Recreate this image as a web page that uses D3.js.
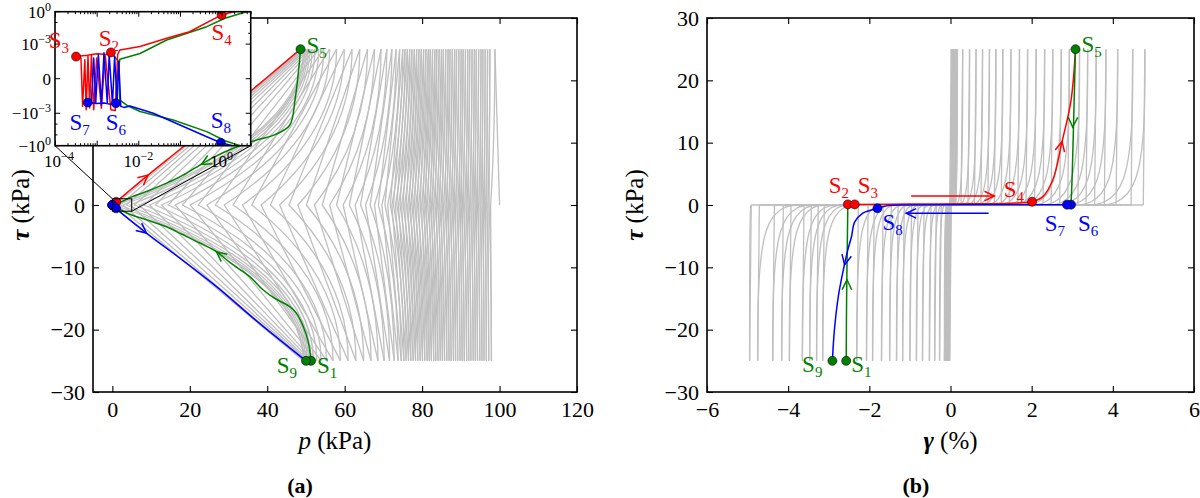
<!DOCTYPE html>
<html>
<head>
<meta charset="utf-8">
<title>Stress path and stress-strain response</title>
<script src="https://cdn.jsdelivr.net/npm/d3@7/dist/d3.min.js"></script>
<style>
  body { margin: 0; background: #fff; }
  svg { display: block; }
  svg text { font-family: "Liberation Serif", "DejaVu Serif", serif !important; }
</style>
</head>
<body>
<svg id="fig" width="1200" height="498" font-family="Liberation Serif, DejaVu Serif, serif"></svg>
<script>
// ---------------- panel (a): p (kPa) vs tau (kPa) ----------------
var tauAmp = 25;
var grayStart = [100, 0];
// p at successive load reversals, tau alternates +25 / -25 starting with +25
var grayPeakP = [98.8, 97.9, 97.5, 97.2, 96.9, 96.6, 96.3, 96.0, 95.7, 95.45,
  95.2, 94.9, 94.6, 94.3, 94.0, 93.75, 93.5, 93.2, 92.9, 92.6,
  92.3, 92.05, 91.8, 91.5, 91.2, 90.9, 90.6, 90.35, 90.1, 89.8,
  89.5, 89.2, 88.9, 88.65, 88.4, 88.1, 87.8, 87.5, 87.2, 86.95,
  86.7, 86.4, 86.1, 85.8, 85.5, 85.25, 85.0, 84.7, 84.4, 84.1,
  83.8, 83.55, 83.3, 83.0, 82.7, 82.4, 82.1, 81.85, 81.6, 81.3,
  81.0, 80.7, 80.4, 80.1, 79.8, 79.5, 79.2, 78.9, 78.6, 78.3,
  78.0, 77.7, 77.4, 77.1, 76.8, 76.5, 76.2, 75.9, 75.6, 75.3,
  75.0, 74.6, 74.2, 73.8, 73.3, 72.8, 72.2, 71.6, 70.9, 70.2,
  69.4, 68.6, 67.7, 66.8, 65.9, 64.9, 63.9, 62.9, 61.9, 60.9,
  59.9, 58.9, 57.9, 57.0, 56.1, 55.3, 54.6, 53.9, 53.3, 52.8,
  52.3, 51.9, 51.6, 51.3, 51.0, 50.7, 50.5, 50.3, 50.1, 49.9,
  49.7, 49.5, 49.4, 49.3, 49.2];
// p where each half cycle crosses tau = 0
var grayMidP = [97.7, 97.3, 97.0, 96.7, 96.4, 96.1, 95.8, 95.5, 95.2, 94.95,
  94.6, 94.3, 94.0, 93.7, 93.4, 93.15, 92.85, 92.55, 92.25, 91.9,
  91.6, 91.35, 91.0, 90.7, 90.4, 90.1, 89.85, 89.6, 89.25, 88.95,
  88.6, 88.3, 88.0, 87.7, 87.4, 87.1, 86.8, 86.45, 86.2, 85.9,
  85.55, 85.2, 84.9, 84.55, 84.3, 84.0, 83.65, 83.35, 83.0, 82.7,
  82.4, 82.1, 81.8, 81.45, 81.1, 80.8, 80.5, 80.2, 79.85, 79.5,
  79.1, 78.75, 78.4, 78.05, 77.7, 77.35, 77.0, 76.65, 76.3, 75.9,
  75.5, 75.1, 74.7, 74.3, 73.9, 73.5, 73.1, 72.6, 72.2, 71.8,
  71.1, 70.4, 69.6, 68.7, 67.7, 66.6, 65.4, 64.1, 62.7, 61.2,
  59.6, 57.9, 56.1, 54.2, 52.2, 50.1, 47.9, 45.6, 43.2, 40.8,
  38.4, 36.0, 33.6, 31.2, 28.9, 26.6, 24.4, 22.2, 20.1, 18.1,
  16.2, 14.4, 12.7, 11.1, 9.6, 8.2, 6.9, 5.7, 4.6, 3.6,
  2.7, 1.9, 1.2, 0.6];

// highlighted cycle, [p, tau]
var pathA_S1S2 = [[51.3, -25], [50.6, -22], [49.3, -19.5], [47.5, -17.3], [45.8, -16.3], [42, -15],
  [38.9, -13.6], [35.5, -11.5], [30.5, -9.3], [26.9, -7.5], [22.6, -6.1], [18, -4.7], [14, -3.5],
  [9, -2.4], [5, -1.6], [2.8, -1.0], [1.2, -0.35], [0.44, -0.05], [0.069, -0.0042], [0.011, -0.00095],
  [0.0057, -0.00079], [0.0036, -0.00062], [0.0034, 0.0005], [0.0022, 0.00076]];
var pathA_S2S5 = [[0.0022, 0.00076], [0.0018, 0.0007], [0.001, 0.00072], [0.0006, 0.00068], [0.00032, 0.00064],
  [0.00042, 0.0006], [0.00046, -0.0008], [0.00052, 0.00055], [0.00056, -0.0009], [0.00062, 0.00065],
  [0.00068, -0.00085], [0.00075, 0.0007], [0.00085, -0.0009], [0.001, 0.0006], [0.0013, -0.00085],
  [0.0016, 0.0007], [0.0022, -0.0009], [0.0028, -0.00092], [0.0032, 0.0007], [0.0036, 0.00083],
  [0.011, 0.00093], [0.048, 0.0035], [0.17, 0.014], [1.0, 0.5], [5, 2.6], [9.2, 4.8], [18.3, 9.35],
  [30, 15.3], [40, 20.5], [48.6, 25]];
var pathA_S5S6 = [[48.6, 25], [48.0, 21], [47.2, 17], [45.8, 12.8], [42, 11.3], [36, 10.2], [31.2, 9.1],
  [26, 7.6], [22.6, 6.4], [18, 4.7], [14, 3.5], [9, 2.2], [5, 1.3], [3.3, 0.81], [1.2, 0.25], [0.44, 0.041],
  [0.048, 0.0024], [0.011, 0.00073], [0.0036, 0.00056], [0.0031, 0], [0.0029, -0.00071]];
var pathA_S6S9 = [[0.0029, -0.00071], [0.0024, -0.00075], [0.0015, -0.0007], [0.001, -0.00072],
  [0.00061, -0.00069], [0.00075, -0.00065], [0.00085, 0.0006], [0.00095, -0.0007], [0.0011, 0.0007],
  [0.0013, -0.00075], [0.0015, 0.00075], [0.0018, -0.0007], [0.002, 0.0007], [0.0024, -0.00075],
  [0.0027, 0.00065], [0.0031, -0.0007], [0.0034, 0.0005], [0.0038, -0.0008], [0.0045, -0.00083],
  [0.0063, -0.00079], [0.023, -0.001], [0.1, -0.012], [0.44, -0.148], [0.96, -0.54],
  [8.8, -4.5], [18, -8.8], [26.9, -13.1], [38, -19], [50, -25]];
var pointsA = [["1", 51.3, -25], ["2", 0.0022, 0.00076], ["3", 0.00032, 0.00064], ["4", 1.0, 0.5],
  ["5", 48.6, 25], ["6", 0.0029, -0.00071], ["7", 0.00061, -0.00069], ["8", 0.96, -0.54], ["9", 50, -25]];
// direction arrows: [series, tip, point behind tip]
var arrowsA = [["S2S5", [9.2, 4.8], [5, 2.6]], ["S6S9", [8.8, -4.5], [4, -2.1]],
  ["S5S6", [23, 6.5], [27, 7.9]], ["S1S2", [26.9, -7.5], [30.5, -9.3]]];

// ---------------- panel (b): gamma (%) vs tau (kPa) ----------------
var cyclePosPeak = [0.02, 0.04, 0.05, 0.07, 0.08, 0.10, 0.11, 0.12, 0.14, 0.15, 0.16, 0.17,
  0.30, 0.47, 0.63, 0.79, 0.96, 1.12, 1.29, 1.49, 1.70, 1.90, 2.11, 2.32, 2.52, 2.73, 2.93,
  3.18, 3.38, 3.59, 3.83, 4.12, 4.49, 4.79];
var cyclePosKnee = [0.00, 0.01, 0.01, 0.02, 0.02, 0.03, 0.03, 0.04, 0.04, 0.05, 0.05, 0.06,
  0.08, 0.14, 0.22, 0.30, 0.40, 0.50, 0.60, 0.72, 0.86, 1.00, 1.15, 1.30, 1.45, 1.60, 1.75,
  1.95, 2.15, 2.35, 2.55, 2.80, 3.10, 3.40];
var cycleNegPeak = [-0.02, -0.03, -0.05, -0.06, -0.08, -0.09, -0.10, -0.11, -0.12, -0.13, -0.14, -0.15,
  -0.27, -0.39, -0.52, -0.69, -0.84, -1.00, -1.18, -1.33, -1.50, -1.70, -1.92, -2.07, -2.31, -3.15, -3.30,
  -3.47, -3.65, -3.97, -4.16, -4.38, -4.75, -4.95, -5.57];
var cycleNegKnee = [0.00, -0.01, -0.01, -0.02, -0.02, -0.03, -0.03, -0.03, -0.04, -0.04, -0.05, -0.06,
  -0.10, -0.16, -0.24, -0.34, -0.44, -0.55, -0.66, -0.78, -0.90, -1.04, -1.20, -1.32, -1.50, -2.15, -2.30,
  -2.45, -2.60, -2.85, -3.00, -3.20, -3.50, -4.90, -4.30];
var unloadStrain = 0.04;

var pathB_S1S2 = [[-2.57, -25], [-2.56, -15], [-2.54, -5], [-2.53, 0.1]];
var pathB_S2S5 = [[-2.53, 0.1], [-2.36, 0.1], [-1, 0.15], [0.5, 0.2], [1.5, 0.3], [2.01, 0.53], [2.27, 1.3],
  [2.52, 4.0], [2.75, 10.2], [2.97, 16.8], [3.08, 25]];
var pathB_S5S6 = [[3.08, 25], [3.04, 15], [3.0, 5], [2.97, 0.05]];
var pathB_S6S9 = [[2.97, 0.05], [2.87, 0.05], [1, 0.03], [-1, 0.0], [-1.55, -0.1], [-1.8, -0.53], [-2.05, -1.0],
  [-2.16, -1.3], [-2.36, -2.7], [-2.44, -5.1], [-2.53, -7.2], [-2.66, -11], [-2.76, -14.5], [-2.86, -20], [-2.91, -25]];
var pointsB = [["1", -2.57, -25], ["2", -2.53, 0.1], ["3", -2.36, 0.1], ["4", 2.01, 0.53], ["5", 3.08, 25],
  ["6", 2.97, 0.05], ["7", 2.87, 0.05], ["8", -1.8, -0.53], ["9", -2.91, -25]];
var arrowsB = [["S2S5", [2.75, 10.2], [2.6, 6.0]], ["S5S6", [3.01, 12.5], [3.03, 17]],
  ["S1S2", [-2.55, -12], [-2.56, -17]], ["S6S9", [-2.61, -9.6], [-2.53, -7.2]]];
var arrowLinesB = [["S2S5", [-0.97, 1.44], [1.08, 1.44]], ["S6S9", [0.94, -1.34], [-1.09, -1.34]]];

// ---------------- ticks ----------------
var ticksPA = [0, 20, 40, 60, 80, 100, 120];
var ticksTau = [-30, -20, -10, 0, 10, 20, 30];
var hiddenTauLabelsA = [10, 20];   // covered by the inset
var ticksGamma = [-6, -4, -2, 0, 2, 4, 6];
var insetTicksX = [1e-4, 1e-3, 1e-2, 1e-1, 1];
var insetLabelsX = [[1e-4, "10", "−4"], [1e-2, "10", "−2"], [1, "10", "0"]];
var insetLabelsY = [[1, "10", "0"], [1e-3, "10", "−3"], [0, "0", ""], [-1e-3, "−10", "−3"], [-1, "−10", "0"]];
var insetMinorY = [1e-2, 1e-1, -1e-2, -1e-1];

// ---------------- styles / layout ----------------
var col = { S1S2: "#008000", S2S5: "#ff0000", S5S6: "#008000", S6S9: "#0000ff" };
var pointColor = { 1: "#008000", 5: "#008000", 9: "#008000", 2: "#ff0000", 3: "#ff0000", 4: "#ff0000",
  6: "#0000ff", 7: "#0000ff", 8: "#0000ff" };
var grayCol = "#bfbfbf";
var unloadCtrlTau = 11;   // shape of the unloading branch of the gray stress path
var boxA = { x0: 93, x1: 577, y0: 18, y1: 392 };
var boxB = { x0: 707, x1: 1194, y0: 18, y1: 392 };
var boxI = { x0: 55, x1: 250.7, y0: 11.7, y1: 145.7 };
// label offsets from the marker (px): dx, dy, anchor
var labA = { 5: [6, 4, "start"], 9: [-9, 12, "end"], 1: [6, 12, "start"] };
var labI = { 3: [-7, -9, "end"], 2: [-2, -6, "middle"], 4: [0, 25, "middle"], 7: [-8, 27, "middle"],
  6: [0, 27, "middle"], 8: [0, -15, "middle"] };
var labB = { 5: [6, 3, "start"], 4: [-8, -5, "end"], 2: [-9, -11, "middle"], 3: [3, -11, "start"],
  8: [5, 22, "start"], 7: [-12, 26, "middle"], 6: [7, 26, "start"], 9: [-10, 11, "end"], 1: [5, 11, "start"] };

var svg = d3.select("#fig");
var defs = svg.append("defs");
function clip(id, b) {
  defs.append("clipPath").attr("id", id).append("rect")
    .attr("x", b.x0).attr("y", b.y0).attr("width", b.x1 - b.x0).attr("height", b.y1 - b.y0);
}
clip("clipA", boxA); clip("clipB", boxB); clip("clipI", boxI);

var xA = d3.scaleLinear().domain([-5, 120]).range([boxA.x0, boxA.x1]);
var yA = d3.scaleLinear().domain([-30, 30]).range([boxA.y1, boxA.y0]);
var xB = d3.scaleLinear().domain([-6, 6]).range([boxB.x0, boxB.x1]);
var yB = d3.scaleLinear().domain([-30, 30]).range([boxB.y1, boxB.y0]);
var xI = d3.scaleLog().domain([1e-4, 5]).range([boxI.x0, boxI.x1]);
// symmetric log for the inset tau axis: linear inside +-1e-3
var linThresh = 1e-3, linSpan = 3.2;
function symT(v) {
  var a = Math.abs(v);
  return a <= linThresh ? v / linThresh * linSpan : Math.sign(v) * (linSpan + Math.log10(a / linThresh));
}
var yIt = d3.scaleLinear().domain([-symT(1), symT(1)]).range([boxI.y1, boxI.y0]);
function yI(v) { return yIt(symT(v)); }

function chevron(g, x, y, tip, from, color) {
  var tx = x(tip[0]), ty = y(tip[1]), fx = x(from[0]), fy = y(from[1]);
  var a = Math.atan2(ty - fy, tx - fx), L = 11, w = 0.45;
  g.append("path")
    .attr("d", "M" + (tx - L * Math.cos(a - w)) + "," + (ty - L * Math.sin(a - w)) + "L" + tx + "," + ty +
      "L" + (tx - L * Math.cos(a + w)) + "," + (ty - L * Math.sin(a + w)))
    .attr("fill", "none").attr("stroke", color).attr("stroke-width", 1.5);
}

function sLabel(g, px, py, num, lay) {
  var t = g.append("text").attr("x", px + lay[0]).attr("y", py + lay[1])
    .attr("text-anchor", lay[2]).attr("fill", pointColor[num]).attr("font-size", 23);
  t.append("tspan").text("S");
  t.append("tspan").attr("font-size", 15).attr("dy", 5).text(num);
}

function axes(g, x, y, b, xt, yt, yfmt) {
  var font = function (sel) {
    sel.attr("font-family", null).attr("font-size", 22);
    sel.select(".domain").remove();
    sel.selectAll(".tick line").attr("stroke-width", 1.1);
  };
  g.append("g").attr("transform", "translate(0," + b.y1 + ")")
    .call(d3.axisBottom(x).tickValues(xt).tickSizeInner(-6).tickSizeOuter(0).tickPadding(9)).call(font);
  g.append("g").attr("transform", "translate(0," + b.y0 + ")")
    .call(d3.axisTop(x).tickValues(xt).tickSizeInner(-6).tickSizeOuter(0).tickFormat("")).call(font);
  g.append("g").attr("transform", "translate(" + b.x0 + ",0)")
    .call(d3.axisLeft(y).tickValues(yt).tickSizeInner(-6).tickSizeOuter(0).tickPadding(8).tickFormat(yfmt)).call(font);
  g.append("g").attr("transform", "translate(" + b.x1 + ",0)")
    .call(d3.axisRight(y).tickValues(yt).tickSizeInner(-6).tickSizeOuter(0).tickFormat("")).call(font);
  g.append("rect").attr("x", b.x0).attr("y", b.y0).attr("width", b.x1 - b.x0).attr("height", b.y1 - b.y0)
    .attr("fill", "none").attr("stroke", "#000").attr("stroke-width", 1.6);
}

// ===================== panel (a) =====================
var gA = svg.append("g");
var plotA = gA.append("g").attr("clip-path", "url(#clipA)");
var curvy = d3.curveCatmullRom.alpha(0.5);

// each half cycle: curved unloading from the reversal to tau = 0, then straight reloading
var grayPaths = [];
var p0 = d3.path();
p0.moveTo(xA(grayStart[0]), yA(grayStart[1]));
p0.lineTo(xA(grayPeakP[0]), yA(tauAmp));
grayPaths.push(p0.toString());
for (var i = 0; i < grayMidP.length; i++) {
  var s = i % 2 === 0 ? 1 : -1;
  var hp = d3.path();
  hp.moveTo(xA(grayPeakP[i]), yA(s * tauAmp));
  hp.quadraticCurveTo(xA(grayPeakP[i]), yA(s * unloadCtrlTau), xA(grayMidP[i]), yA(0));
  hp.lineTo(xA(grayPeakP[i + 1]), yA(-s * tauAmp));
  grayPaths.push(hp.toString());
}
plotA.selectAll("path.gray").data(grayPaths).enter().append("path")
  .attr("class", "gray").attr("d", function (d) { return d; })
  .attr("fill", "none").attr("stroke", grayCol).attr("stroke-width", 1.3);

var pathsA = { S1S2: pathA_S1S2, S2S5: pathA_S2S5, S5S6: pathA_S5S6, S6S9: pathA_S6S9 };
var lineA = d3.line().x(function (d) { return xA(d[0]); }).y(function (d) { return yA(d[1]); }).curve(curvy);
["S1S2", "S2S5", "S5S6", "S6S9"].forEach(function (k) {
  plotA.append("path").datum(pathsA[k]).attr("d", lineA)
    .attr("fill", "none").attr("stroke", col[k]).attr("stroke-width", 1.5).attr("stroke-linejoin", "round");
});
arrowsA.forEach(function (a) { chevron(plotA, xA, yA, a[1], a[2], col[a[0]]); });
pointsA.forEach(function (p) {
  plotA.append("circle").attr("cx", xA(p[1])).attr("cy", yA(p[2])).attr("r", 4.5)
    .attr("fill", pointColor[p[0]]).attr("stroke", "#000").attr("stroke-width", 0.6);
});
axes(gA, xA, yA, boxA, ticksPA, ticksTau, function (d) {
  return hiddenTauLabelsA.indexOf(d) >= 0 ? "" : d3.format("")(d);
});

// zoom box and connectors
var zx0 = xA(1e-4), zx1 = xA(5), zy0 = yA(1), zy1 = yA(-1);
gA.append("rect").attr("x", zx0).attr("y", zy0).attr("width", zx1 - zx0).attr("height", zy1 - zy0)
  .attr("fill", "none").attr("stroke", "#000").attr("stroke-width", 1);
gA.append("line").attr("x1", boxI.x0).attr("y1", boxI.y1).attr("x2", zx0).attr("y2", zy0)
  .attr("stroke", "#000").attr("stroke-width", 1);
gA.append("line").attr("x1", boxI.x1).attr("y1", boxI.y1).attr("x2", zx1).attr("y2", zy1)
  .attr("stroke", "#000").attr("stroke-width", 1);

gA.append("text").attr("x", (boxA.x0 + boxA.x1) / 2).attr("y", 449).attr("text-anchor", "middle")
  .attr("font-size", 25).call(function (t) {
    t.append("tspan").attr("font-style", "italic").text("p");
    t.append("tspan").text(" (kPa)");
  });
gA.append("text").attr("transform", "translate(" + (boxA.x0 - 64) + "," + ((boxA.y0 + boxA.y1) / 2) + ") rotate(-90)")
  .attr("text-anchor", "middle").attr("font-size", 25).call(function (t) {
    t.append("tspan").attr("font-style", "italic").attr("font-weight", "bold").text("τ");
    t.append("tspan").text(" (kPa)");
  });
gA.append("text").attr("x", 300).attr("y", 493).attr("text-anchor", "middle")
  .attr("font-size", 22).attr("font-weight", "bold").text("(a)");

pointsA.forEach(function (p) {
  if (labA[p[0]]) sLabel(gA, xA(p[1]), yA(p[2]), p[0], labA[p[0]]);
});

// ---- inset ----
var gI = svg.append("g");
gI.append("rect").attr("x", boxI.x0).attr("y", boxI.y0).attr("width", boxI.x1 - boxI.x0)
  .attr("height", boxI.y1 - boxI.y0).attr("fill", "#fff");
var plotI = gI.append("g").attr("clip-path", "url(#clipI)");
var lineI = d3.line().x(function (d) { return xI(d[0]); }).y(function (d) { return yI(d[1]); });
["S1S2", "S5S6", "S2S5", "S6S9"].forEach(function (k) {
  plotI.append("path").datum(pathsA[k]).attr("d", lineI)
    .attr("fill", "none").attr("stroke", col[k]).attr("stroke-width", 1.5).attr("stroke-linejoin", "round");
});
pointsA.forEach(function (p) {
  plotI.append("circle").attr("cx", xI(p[1])).attr("cy", yI(p[2])).attr("r", 4.5)
    .attr("fill", pointColor[p[0]]).attr("stroke", "#000").attr("stroke-width", 0.6);
});
var minorX = [];
insetTicksX.forEach(function (d) {
  for (var k = 2; k <= 9; k++) if (d * k <= 5) minorX.push(d * k);
});
function tickStyle(sel) { sel.select(".domain").remove(); sel.selectAll(".tick line").attr("stroke-width", 1); }
gI.append("g").attr("transform", "translate(0," + boxI.y1 + ")")
  .call(d3.axisBottom(xI).tickValues(insetTicksX).tickSizeInner(-5).tickSizeOuter(0).tickFormat("")).call(tickStyle);
gI.append("g").attr("transform", "translate(0," + boxI.y1 + ")")
  .call(d3.axisBottom(xI).tickValues(minorX).tickSizeInner(-2.5).tickSizeOuter(0).tickFormat("")).call(tickStyle);
gI.append("g").attr("transform", "translate(0," + boxI.y0 + ")")
  .call(d3.axisTop(xI).tickValues(insetTicksX).tickSizeInner(-5).tickSizeOuter(0).tickFormat("")).call(tickStyle);
gI.append("g").attr("transform", "translate(0," + boxI.y0 + ")")
  .call(d3.axisTop(xI).tickValues(minorX).tickSizeInner(-2.5).tickSizeOuter(0).tickFormat("")).call(tickStyle);
insetLabelsY.concat(insetMinorY.map(function (v) { return [v, null]; })).forEach(function (t) {
  var yy = yI(t[0]), len = t[1] === null ? 2.5 : 5;
  gI.append("line").attr("x1", boxI.x0).attr("x2", boxI.x0 + len).attr("y1", yy).attr("y2", yy)
    .attr("stroke", "#000").attr("stroke-width", 1);
  gI.append("line").attr("x1", boxI.x1).attr("x2", boxI.x1 - len).attr("y1", yy).attr("y2", yy)
    .attr("stroke", "#000").attr("stroke-width", 1);
});
gI.append("rect").attr("x", boxI.x0).attr("y", boxI.y0).attr("width", boxI.x1 - boxI.x0)
  .attr("height", boxI.y1 - boxI.y0).attr("fill", "none").attr("stroke", "#000").attr("stroke-width", 1.6);
insetLabelsY.forEach(function (t) {
  var tx = gI.append("text").attr("x", boxI.x0 - 4).attr("y", yI(t[0]) + 6)
    .attr("text-anchor", "end").attr("font-size", 17);
  tx.append("tspan").text(t[1]);
  if (t[2]) tx.append("tspan").attr("font-size", 12).attr("dy", -7).text(t[2]);
});
insetLabelsX.forEach(function (t) {
  var tx = gI.append("text").attr("x", xI(t[0]) + (t[0] === 1e-4 ? 4 : 0)).attr("y", 167)
    .attr("text-anchor", "middle").attr("font-size", 17);
  tx.append("tspan").text(t[1]);
  tx.append("tspan").attr("font-size", 12).attr("dy", -7).text(t[2]);
});
pointsA.forEach(function (p) {
  if (labI[p[0]]) sLabel(gI, xI(p[1]), yI(p[2]), p[0], labI[p[0]]);
});

// ===================== panel (b) =====================
var gB = svg.append("g");
var plotB = gB.append("g").attr("clip-path", "url(#clipB)");
var lineB = d3.line().x(function (d) { return xB(d[0]); }).y(function (d) { return yB(d[1]); });
var lineBbasis = d3.line().x(function (d) { return xB(d[0]); }).y(function (d) { return yB(d[1]); }).curve(d3.curveBasis);

var straightSegs = [], bentSegs = [], cur = [0, 0];
for (var c = 0; c < cyclePosPeak.length; c++) {
  var pp = cyclePosPeak[c], pk = cyclePosKnee[c], np = cycleNegPeak[c], nk = cycleNegKnee[c];
  straightSegs.push([cur, [pk, 0]]);
  bentSegs.push([[pk, 0], [pp, 0], [pp, tauAmp]]);
  var u = [pp - unloadStrain, 0];
  straightSegs.push([[pp, tauAmp], u], [u, [nk, 0]]);
  bentSegs.push([[nk, 0], [np, 0], [np, -tauAmp]]);
  cur = [np + unloadStrain, 0];
  straightSegs.push([[np, -tauAmp], cur]);
}
plotB.selectAll("path.gs").data(straightSegs).enter().append("path").attr("class", "gs")
  .attr("d", lineB).attr("fill", "none").attr("stroke", grayCol).attr("stroke-width", 1.3);
plotB.selectAll("path.gb").data(bentSegs).enter().append("path").attr("class", "gb")
  .attr("d", lineBbasis).attr("fill", "none").attr("stroke", grayCol).attr("stroke-width", 1.3);

var pathsB = { S1S2: pathB_S1S2, S2S5: pathB_S2S5, S5S6: pathB_S5S6, S6S9: pathB_S6S9 };
var lineBc = d3.line().x(function (d) { return xB(d[0]); }).y(function (d) { return yB(d[1]); }).curve(curvy);
["S1S2", "S2S5", "S5S6", "S6S9"].forEach(function (k) {
  plotB.append("path").datum(pathsB[k]).attr("d", lineBc)
    .attr("fill", "none").attr("stroke", col[k]).attr("stroke-width", 1.5);
});
arrowsB.forEach(function (a) { chevron(plotB, xB, yB, a[1], a[2], col[a[0]]); });
arrowLinesB.forEach(function (a) {
  plotB.append("line").attr("x1", xB(a[1][0])).attr("y1", yB(a[1][1])).attr("x2", xB(a[2][0])).attr("y2", yB(a[2][1]))
    .attr("stroke", col[a[0]]).attr("stroke-width", 1.5);
  chevron(plotB, xB, yB, a[2], a[1], col[a[0]]);
});
pointsB.forEach(function (p) {
  plotB.append("circle").attr("cx", xB(p[1])).attr("cy", yB(p[2])).attr("r", 4.5)
    .attr("fill", pointColor[p[0]]).attr("stroke", "#000").attr("stroke-width", 0.6);
});
axes(gB, xB, yB, boxB, ticksGamma, ticksTau, d3.format(""));

gB.append("text").attr("x", (boxB.x0 + boxB.x1) / 2).attr("y", 449).attr("text-anchor", "middle")
  .attr("font-size", 25).call(function (t) {
    t.append("tspan").attr("font-style", "italic").attr("font-weight", "bold").text("γ");
    t.append("tspan").text(" (%)");
  });
gB.append("text").attr("transform", "translate(" + (boxB.x0 - 64) + "," + ((boxB.y0 + boxB.y1) / 2) + ") rotate(-90)")
  .attr("text-anchor", "middle").attr("font-size", 25).call(function (t) {
    t.append("tspan").attr("font-style", "italic").attr("font-weight", "bold").text("τ");
    t.append("tspan").text(" (kPa)");
  });
gB.append("text").attr("x", 916).attr("y", 493).attr("text-anchor", "middle")
  .attr("font-size", 22).attr("font-weight", "bold").text("(b)");
pointsB.forEach(function (p) { sLabel(gB, xB(p[1]), yB(p[2]), p[0], labB[p[0]]); });
</script>
</body>
</html>
